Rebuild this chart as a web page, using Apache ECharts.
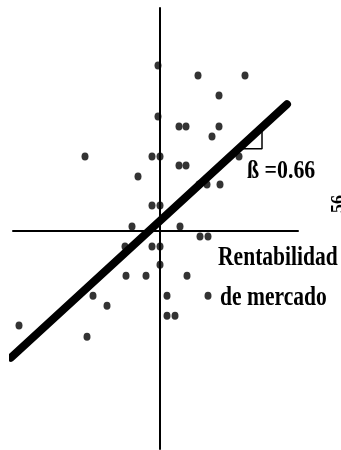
<!DOCTYPE html>
<html>
<head>
<meta charset="utf-8">
<style>
  html, body { margin: 0; padding: 0; background: #fff; }
  #chart { width: 341px; height: 450px; }
</style>
<script src="https://cdn.jsdelivr.net/npm/echarts@6/dist/echarts.min.js"></script>
</head>
<body>
<div id="chart"></div>
<script>
// Market return (x) and stock return (y) for each observation
const marketReturn = [
  -0.2, 3.8, 8.5, 5.9, -0.2, 1.9, 2.6, 5.9, 5.2, -7.5,
  -0.8, 0.0, 1.9, 2.6, 7.9, -2.2, 3.9, 4.7, 6.0, -0.8,
  0.0, -2.8, 2.0, 4.0, 4.8, -3.5, -0.8, 0.0, 0.0, -3.4,
  -1.4, 2.7, -6.7, -5.3, 0.7, 4.8, 0.7, 1.5, -14.1, -7.3
];
const stockReturn = [
  11.87, 11.15, 11.15, 9.71, 8.2, 7.48, 7.48, 7.48, 6.76, 5.32,
  5.32, 5.32, 4.68, 4.68, 5.32, 3.88, 3.31, 3.31, 3.31, 1.8,
  1.8, 0.29, 0.29, -0.43, -0.43, -1.15, -1.15, -1.15, -2.45, -3.24,
  -3.24, -3.24, -4.68, -5.4, -4.68, -4.68, -6.12, -6.12, -6.83, -7.63
];

// Characteristic line: stock = ALPHA + BETA * market
const BETA = 0.66;
const ALPHA = 0.7;
const lineExtent = [-14.9, 12.7];
// Run of the slope triangle drawn under the line
const triangleRun = [7.85, 10.2];

const fit = x => ALPHA + BETA * x;

const points = marketReturn.map((x, i) => [x, stockReturn[i]]);
const fitLine = lineExtent.map(x => [x, fit(x)]);
const triangle = [
  [triangleRun[0], fit(triangleRun[0])],
  [triangleRun[1], fit(triangleRun[0])],
  [triangleRun[1], fit(triangleRun[1])]
];

const SERIF = '"Liberation Serif", "Times New Roman", serif';

const chart = echarts.init(document.getElementById('chart'), null, { renderer: 'canvas' });
chart.setOption({
  animation: false,
  backgroundColor: '#ffffff',
  grid: { left: 13, right: 43, top: 8, bottom: 1, containLabel: false },
  xAxis: {
    type: 'value', min: -14.7, max: 13.8,
    axisLine: { onZero: true, lineStyle: { color: '#000', width: 2 } },
    axisTick: { show: false }, axisLabel: { show: false }, splitLine: { show: false }
  },
  yAxis: {
    type: 'value', min: -15.7, max: 16,
    axisLine: { onZero: true, lineStyle: { color: '#000', width: 2 } },
    axisTick: { show: false }, axisLabel: { show: false }, splitLine: { show: false }
  },
  series: [
    {
      type: 'line', data: triangle, symbol: 'none', z: 2,
      lineStyle: { color: '#000', width: 1.5 }
    },
    {
      type: 'scatter', data: points, symbol: 'circle', symbolSize: [7, 8], z: 3,
      itemStyle: { color: '#000' }
    },
    {
      type: 'line', data: fitLine, symbol: 'none', clip: false, z: 4,
      lineStyle: { color: '#000', width: 8, cap: 'round' }
    }
  ],
  graphic: [
    {
      type: 'text', x: 247, y: 171, scaleX: 0.84,
      style: { text: 'ß =0.66', font: 'bold 26px ' + SERIF, fill: '#000', verticalAlign: 'middle', align: 'left' }
    },
    {
      type: 'text', x: 218, y: 258, scaleX: 0.77,
      style: { text: 'Rentabilidad', font: 'bold 28px ' + SERIF, fill: '#000', verticalAlign: 'middle', align: 'left' }
    },
    {
      type: 'text', x: 220, y: 298, scaleX: 0.77,
      style: { text: 'de mercado', font: 'bold 28px ' + SERIF, fill: '#000', verticalAlign: 'middle', align: 'left' }
    },
    {
      type: 'text', x: 339, y: 204, rotation: Math.PI / 2,
      style: { text: '56', font: 'bold 18px ' + SERIF, fill: '#000', verticalAlign: 'middle', align: 'center' }
    }
  ]
});
</script>
</body>
</html>
